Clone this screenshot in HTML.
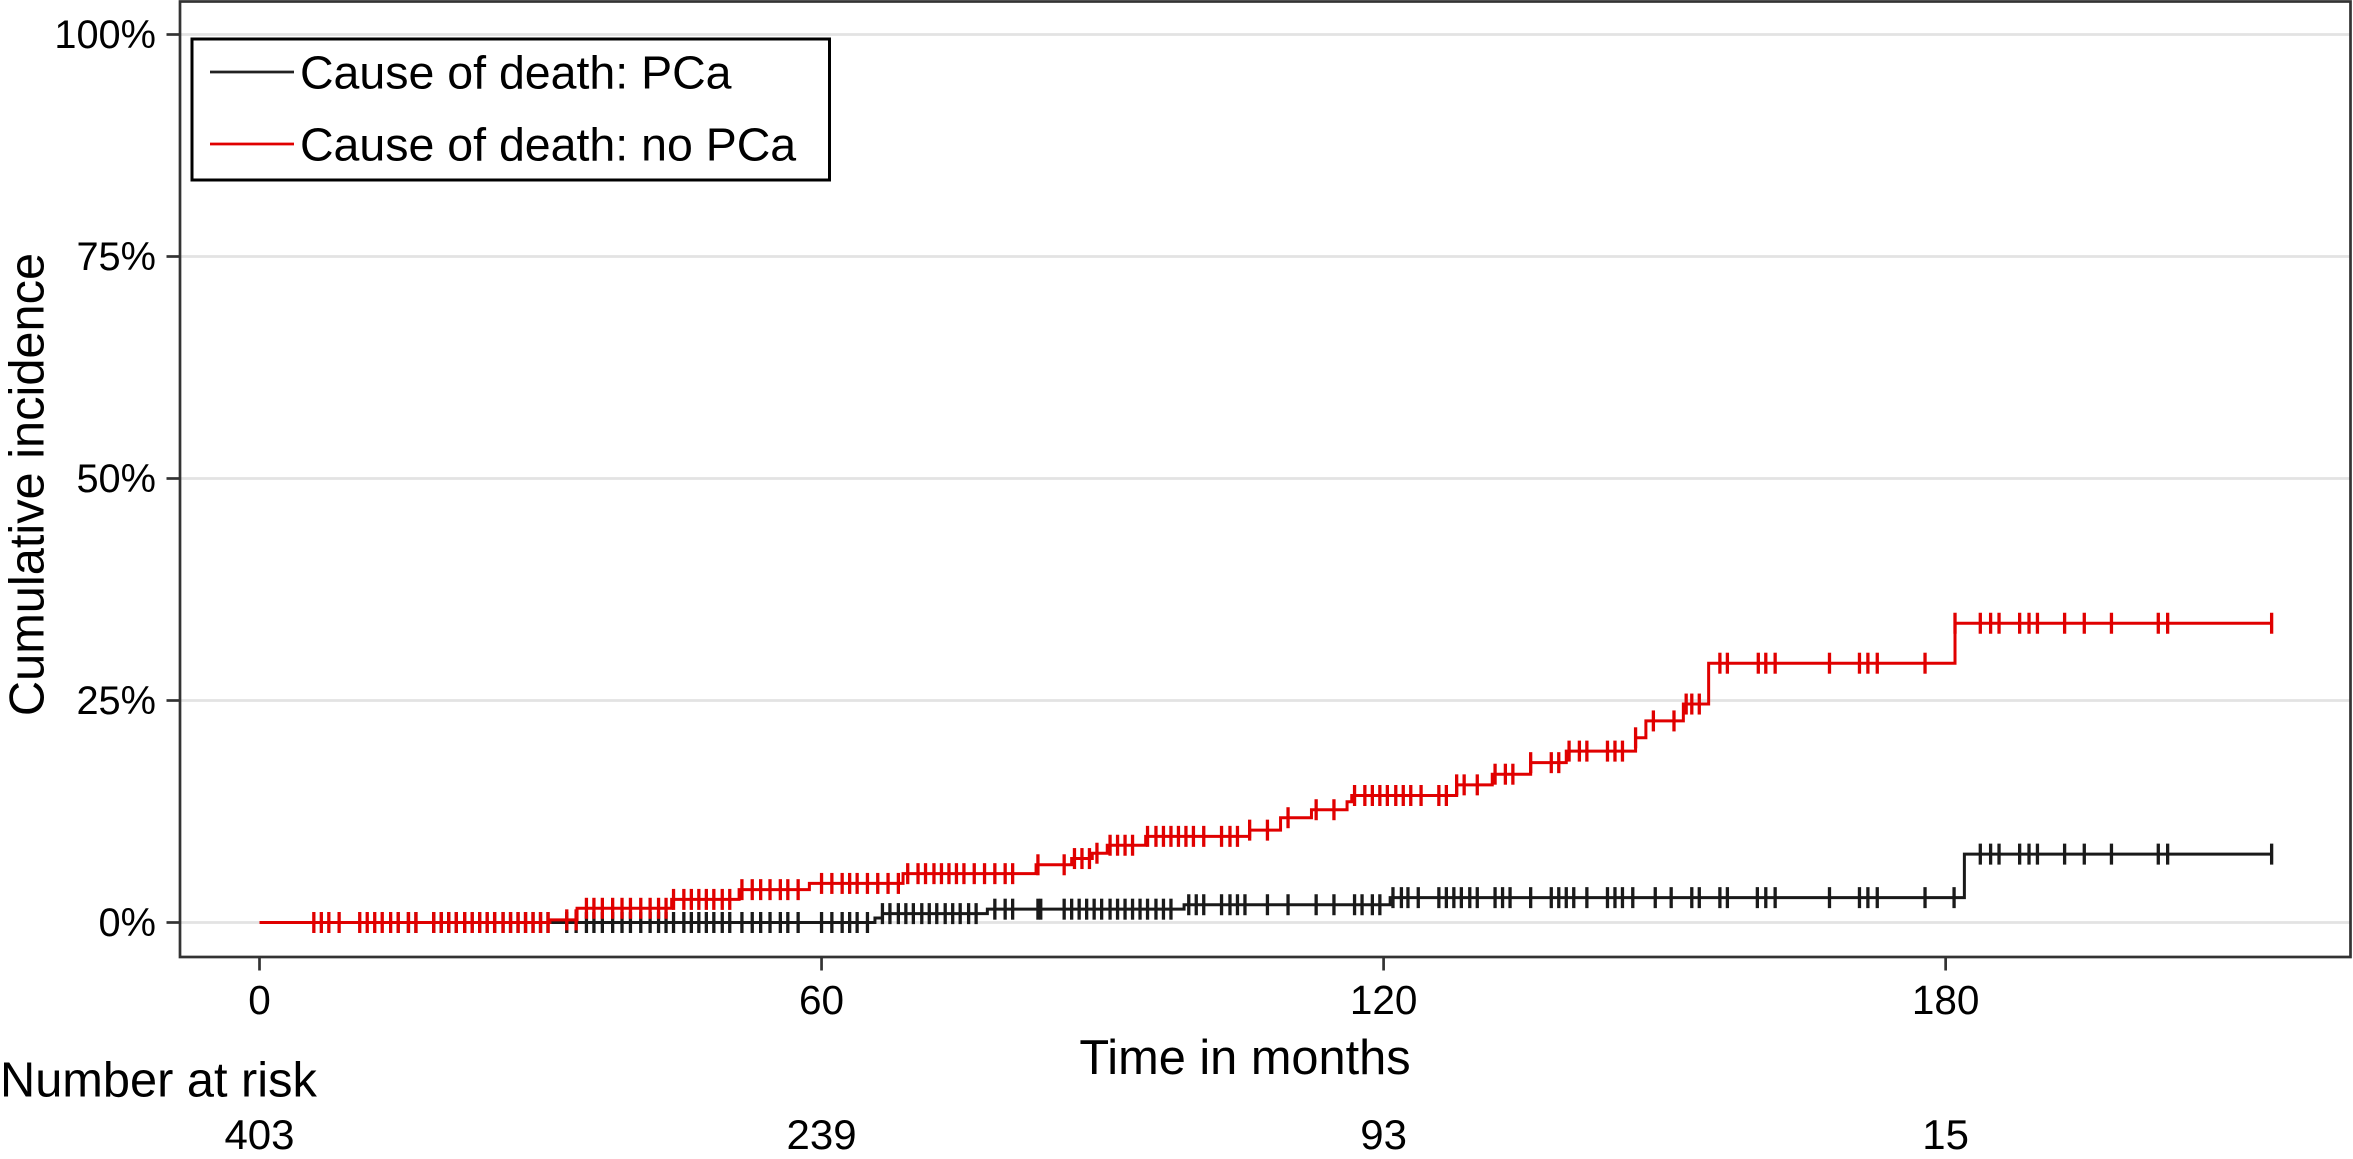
<!DOCTYPE html>
<html><head><meta charset="utf-8"><style>
html,body{margin:0;padding:0;background:#fff;}
svg{display:block;font-family:"Liberation Sans",Arial,sans-serif;}
</style></head><body>
<svg id="chart" width="2353" height="1159" viewBox="0 0 1568.67 772.67" xmlns="http://www.w3.org/2000/svg">
<rect x="0" y="0" width="1568.67" height="772.67" fill="#fff"/>
<g id="grid"></g>
<g id="curves"></g>
<rect x="120" y="1" width="1447" height="637" fill="none" stroke="#333" stroke-width="1.8"/>
<g id="axes"></g>
<text transform="translate(29,323) rotate(-90)" text-anchor="middle" font-size="32.5" fill="#000">Cumulative incidence</text>
<text x="830" y="716" text-anchor="middle" font-size="32.5" fill="#000">Time in months</text>
<text x="0" y="731" font-size="32.5" fill="#000">Number at risk</text>
<g>
<rect x="128" y="26" width="425" height="94" fill="#fff" stroke="#000" stroke-width="2"/>
<line x1="140" y1="48" x2="196" y2="48" stroke="#222" stroke-width="1.8"/>
<text x="200" y="59" font-size="31" fill="#000">Cause of death: PCa</text>
<line x1="140" y1="96" x2="196" y2="96" stroke="#e00000" stroke-width="1.8"/>
<text x="200" y="107" font-size="31" fill="#000">Cause of death: no PCa</text>
</g>
</svg>
<script>
const yTicks=[0,25,50,75,100];
const yTickLabels=["0%","25%","50%","75%","100%"];
const xTicks=[0,60,120,180];
const riskTimes=[0,60,120,180];
const riskCounts=["403","239","93","15"];
const tEnd=214.8;
const pcaStepTimes=[0,65.7,66.5,77.7,98.7,120.7,182];
const pcaStepValues=[0,0.5,1.0,1.5,2.0,2.8,7.7];
const noPcaStepTimes=[0,31,33.9,44,51.2,58.7,68.7,82.9,86.7,88.9,90.5,94.6,105.7,109,112.3,116.1,116.6,127.8,131.6,135.7,139.5,146.9,148,152,154.7,181];
const noPcaStepValues=[0,0.3,1.6,2.6,3.7,4.4,5.5,6.5,7.2,7.8,8.7,9.7,10.4,11.8,12.7,13.6,14.3,15.5,16.7,18.0,19.3,20.8,22.7,24.6,29.2,33.7];
const pcaCensor=[14.8,15.9,16.7,18.6,19.4,20.2,21.0,21.9,22.7,23.5,24.3,25.1,26.0,26.8,27.6,28.4,29.2,30.0,30.8,32.8,33.8,34.9,35.7,36.6,37.7,38.7,39.6,40.7,41.7,42.6,43.4,44.2,45.3,46.1,46.9,47.7,48.5,49.4,50.2,51.5,52.6,53.5,54.5,55.6,56.4,57.5,60.0,61.1,62.2,63.0,63.8,64.9,66.5,67.3,68.2,69.0,69.8,70.7,71.5,72.3,73.2,74.0,74.8,75.7,76.5,78.5,79.6,80.4,83.1,83.4,85.9,86.7,87.5,88.3,89.1,89.9,90.8,91.6,92.4,93.2,94.0,94.8,95.7,96.5,97.3,99.2,100.0,100.8,102.7,103.6,104.4,105.2,107.6,109.8,112.8,114.7,116.9,117.7,118.8,119.6,121.0,121.9,122.6,123.7,125.9,126.7,127.5,128.3,129.2,130.0,131.9,132.7,133.5,135.7,137.9,138.7,139.5,140.3,141.7,143.9,144.7,145.5,146.6,149.0,150.7,152.9,153.7,155.9,156.7,159.9,160.8,161.8,167.6,170.8,171.7,172.7,177.8,180.9,183.7,184.8,185.7,187.9,188.9,189.8,192.7,194.8,197.7,202.7,203.7,214.8];
const noPcaCensor=[5.8,6.6,7.4,8.5,10.7,11.5,12.3,13.1,14.0,14.8,15.9,16.7,18.6,19.4,20.2,21.0,21.9,22.7,23.5,24.3,25.1,26.0,26.8,27.6,28.4,29.2,30.0,30.8,32.8,33.8,34.9,35.7,36.6,37.7,38.7,39.6,40.7,41.7,42.6,43.4,44.2,45.3,46.1,46.9,47.7,48.5,49.4,50.2,51.5,52.6,53.5,54.5,55.6,56.4,57.5,60.0,61.1,62.2,63.0,63.8,64.9,66.0,67.1,68.2,69.2,70.3,71.1,72.0,72.8,73.6,74.4,75.2,76.3,77.4,78.5,79.6,80.4,83.1,85.9,87.0,87.8,88.6,89.4,90.8,91.6,92.4,93.2,94.8,95.7,96.5,97.3,98.1,98.9,99.7,100.8,102.7,103.6,104.4,105.7,107.6,109.8,112.8,114.7,116.9,118.0,118.8,119.6,120.4,121.3,122.1,122.9,124.0,125.9,126.7,127.8,128.6,130.0,131.9,133.0,133.8,135.7,137.9,138.7,139.8,140.9,141.7,143.9,144.7,145.5,146.9,148.8,151.0,152.3,152.9,153.7,155.9,156.7,160.0,160.8,161.8,167.6,170.8,171.7,172.7,177.8,181.0,183.7,184.8,185.7,187.9,188.9,189.8,192.7,194.8,197.7,202.7,203.7,214.8];

const NS="http://www.w3.org/2000/svg";
function xs(t){return 173+t*6.245;}
function ys(p){return 615-p*5.92;}
function mk(tag,attrs,parent){const e=document.createElementNS(NS,tag);for(const k in attrs)e.setAttribute(k,attrs[k]);parent.appendChild(e);return e;}
const grid=document.getElementById('grid'),axes=document.getElementById('axes'),curves=document.getElementById('curves');
yTicks.forEach((v,i)=>{
  const g=mk('line',{x1:120,x2:1567,y1:ys(v),y2:ys(v),stroke:'#e3e3e3','stroke-width':1.8},grid);
  
  
  const tk=mk('line',{x1:111,x2:120,y1:ys(v),y2:ys(v),stroke:'#333','stroke-width':1.8},axes);
  
  
  const tx=mk('text',{x:104,y:ys(v)+9,'text-anchor':'end','font-size':26.5,fill:'#000'},axes);
  tx.textContent=yTickLabels[i];
  
  
});
xTicks.forEach(v=>{
  const tk=mk('line',{x1:xs(v),x2:xs(v),y1:638,y2:647,stroke:'#333','stroke-width':1.8},axes);
  
  
  const tx=mk('text',{x:xs(v),y:676,'text-anchor':'middle','font-size':27,fill:'#000'},axes);
  tx.textContent=String(v);
  
  
});
riskTimes.forEach((v,i)=>{
  const tx=mk('text',{x:xs(v),y:766,'text-anchor':'middle','font-size':28,fill:'#000'},axes);
  tx.textContent=riskCounts[i];
  
  
});
function stepVal(times,vals,t){let v=vals[0];for(let i=0;i<times.length;i++){if(times[i]<=t)v=vals[i];}return v;}
function drawSeries(times,vals,cens,color,name){
  let d='M'+xs(times[0])+','+ys(vals[0]);
  for(let i=1;i<times.length;i++){d+='H'+xs(times[i])+'V'+ys(vals[i]);}
  d+='H'+xs(tEnd);
  const p=mk('path',{d:d,fill:'none',stroke:color,'stroke-width':2},curves);
  
  
  cens.forEach(t=>{
    const y=ys(stepVal(times,vals,t));
    const c=mk('line',{x1:xs(t),x2:xs(t),y1:y-7,y2:y+7,stroke:color,'stroke-width':2.2},curves);
    
    
  });
}
drawSeries(pcaStepTimes,pcaStepValues,pcaCensor,'#1a1a1a','pca');
drawSeries(noPcaStepTimes,noPcaStepValues,noPcaCensor,'#e00000','no-pca');
</script>
</body></html>
